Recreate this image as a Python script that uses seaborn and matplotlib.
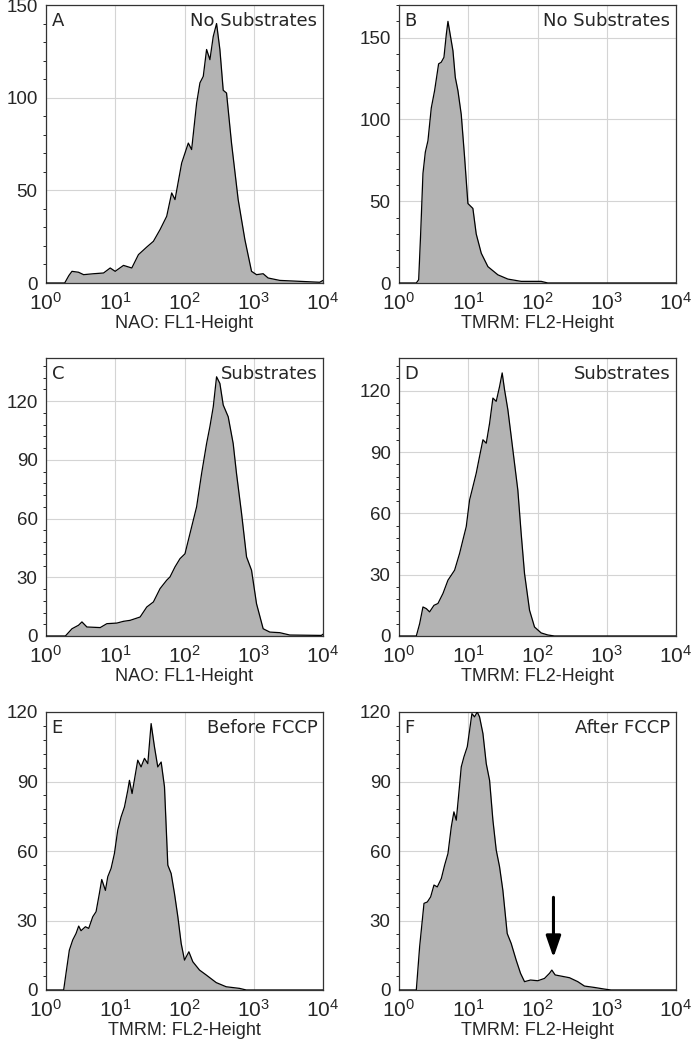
import numpy as np
import matplotlib.pyplot as plt
import matplotlib.ticker as mticker
import seaborn as sns

# histogram outlines: log10(channel) positions and event counts
a_log = [0.0, 0.27, 0.33, 0.375, 0.47, 0.543, 0.687, 0.831, 0.927, 0.999, 1.119, 1.239, 1.335,
         1.455, 1.551, 1.647, 1.743, 1.815, 1.863, 1.959, 2.055, 2.103, 2.175, 2.223, 2.271,
         2.319, 2.367, 2.415, 2.463, 2.511, 2.559, 2.607, 2.679, 2.775, 2.872, 2.968, 3.04,
         3.136, 3.208, 3.376, 3.664, 3.952, 4.0]
a_cnt = [0, 0, 4, 6.3, 5.8, 4.5, 5.0, 5.4, 8.1, 6.3, 9.5, 8.1, 15.3,
         19.4, 22.5, 28.8, 36, 48.6, 45, 64.7, 75.5, 72, 97, 108, 111.5,
         126, 120.5, 133, 140, 126, 104, 102.5, 75.5, 45, 23.4, 6.3, 4.5,
         5.0, 2.7, 1.4, 0.9, 0.4, 1.4]

b_log = [0.0, 0.25, 0.284, 0.3125, 0.346, 0.38, 0.418, 0.466, 0.514, 0.572, 0.61, 0.649, 0.683,
         0.707, 0.731, 0.779, 0.813, 0.851, 0.899, 0.947, 0.995, 1.067, 1.115, 1.188, 1.284,
         1.428, 1.572, 1.764, 1.909, 2.053, 2.149, 4.0]
b_cnt = [0, 0, 2, 30, 67, 80, 87, 107, 117.6, 134, 135, 138, 152,
         160, 154, 142, 125.7, 117.6, 103, 77, 48.6, 45.6, 30, 18.2, 10,
         5, 2.4, 1, 1, 1, 0, 0]

c_log = [0.0, 0.28, 0.375, 0.47, 0.519, 0.591, 0.783, 0.879, 1.023, 1.119, 1.215, 1.359, 1.455,
         1.551, 1.647, 1.743, 1.791, 1.863, 1.935, 2.007, 2.079, 2.175, 2.247, 2.319, 2.367,
         2.415, 2.463, 2.511, 2.559, 2.631, 2.703, 2.751, 2.824, 2.896, 2.968, 3.04, 3.136,
         3.232, 3.376, 3.52, 3.976, 4.0]
c_cnt = [0, 0, 3.7, 5.5, 7.2, 4.6, 4.3, 6.3, 6.6, 7.5, 8, 9.7, 14.8,
         17.4, 24.2, 28.5, 30.2, 35.3, 39.5, 42, 52.3, 66, 83, 98.3, 107,
         117, 132.4, 129, 118, 112, 98.3, 83, 62.6, 40.4, 33.6, 16.5, 3.7,
         2, 1.7, 0.5, 0.3, 0.9]

d_log = [0.0, 0.25, 0.298, 0.346, 0.394, 0.442, 0.505, 0.5625, 0.635, 0.707, 0.803, 0.875, 0.923,
         0.971, 1.019, 1.067, 1.115, 1.163, 1.212, 1.26, 1.308, 1.356, 1.404, 1.452, 1.49,
         1.524, 1.572, 1.62, 1.668, 1.716, 1.764, 1.8125, 1.885, 1.957, 2.053, 2.149, 2.245, 4.0]
d_cnt = [0, 0, 6, 14.2, 13.4, 11.8, 15, 15.9, 20.8, 27.3, 32.2, 40.4, 47,
         53.5, 66.5, 73, 79.6, 87.8, 96, 94.3, 104, 116.4, 114.8, 122, 128.7,
         120.5, 110.7, 97.7, 84.5, 71.4, 50.2, 30.6, 12.6, 4.4, 1.5, 0.5, 0, 0]

e_log = [0.0, 0.255, 0.289, 0.337, 0.386, 0.434, 0.472, 0.506, 0.569, 0.617, 0.675, 0.723, 0.771,
         0.805, 0.858, 0.892, 0.94, 0.988, 1.036, 1.084, 1.133, 1.181, 1.205, 1.243, 1.292,
         1.325, 1.373, 1.422, 1.47, 1.518, 1.566, 1.614, 1.663, 1.711, 1.759, 1.807, 1.855,
         1.904, 1.952, 2.0, 2.063, 2.12, 2.217, 2.313, 2.458, 2.602, 2.795, 2.892, 4.0]
e_cnt = [0, 0, 7.2, 17.2, 21.6, 24.4, 27.6, 25.6, 27.3, 26.6, 31.6, 33.8, 41.7,
         47.7, 43, 48.9, 52.5, 58.9, 69, 74.7, 79, 86.2, 90.5, 84.8, 93.4,
         99.2, 96.3, 100, 97.7, 115, 105, 96.3, 98.4, 87.7, 53.9, 50.3, 41.7,
         31.6, 20.1, 12.9, 16.5, 12.2, 8.6, 6.5, 3.2, 1.4, 0.7, 0, 0]

f_log = [0.0, 0.25, 0.298, 0.361, 0.409, 0.457, 0.505, 0.553, 0.611, 0.659, 0.707, 0.755, 0.793,
         0.827, 0.861, 0.899, 0.9375, 0.986, 1.019, 1.053, 1.091, 1.13, 1.163, 1.212, 1.26,
         1.308, 1.356, 1.404, 1.452, 1.5, 1.5625, 1.62, 1.692, 1.755, 1.8125, 1.899, 2.005,
         2.101, 2.173, 2.207, 2.255, 2.341, 2.462, 2.582, 2.678, 2.822, 2.966, 3.0625, 4.0]
f_cnt = [0, 0, 18.7, 37.4, 38, 40.2, 45.3, 44.5, 48.1, 53.9, 58.9, 70.4, 76.9,
         73.3, 84, 96.3, 100.6, 105, 112, 119.3, 117.9, 120, 117.9, 110.7, 97.7,
         90.5, 73.3, 60.4, 53.2, 43, 24.4, 20.1, 12.9, 7.2, 3.6, 4.3, 4,
         5, 7.2, 8.6, 6.5, 6, 5.3, 3.6, 1.7, 1.1, 0.4, 0, 0]

letters = ['A', 'B', 'C', 'D', 'E', 'F']
titles = ['No Substrates', 'No Substrates', 'Substrates', 'Substrates',
          'Before FCCP', 'After FCCP']
xlabels = ['NAO: FL1-Height', 'TMRM: FL2-Height', 'NAO: FL1-Height',
           'TMRM: FL2-Height', 'TMRM: FL2-Height', 'TMRM: FL2-Height']
ymax = [150, 170, 142, 136, 120, 120]
ystep = [50, 50, 30, 30, 30, 30]
yminor = [10, 10, 6, 6, 6, 6]

sns.set_style('white')
plt.rcParams['font.family'] = ['Liberation Sans', 'DejaVu Sans']
plt.rcParams['mathtext.fontset'] = 'custom'
plt.rcParams['mathtext.rm'] = 'Liberation Sans'
plt.rcParams['mathtext.it'] = 'Liberation Sans'

fig = plt.figure(figsize=(6.97, 10.5), dpi=100)

curves = [(a_log, a_cnt), (b_log, b_cnt), (c_log, c_cnt),
          (d_log, d_cnt), (e_log, e_cnt), (f_log, f_cnt)]
lefts = [46 / 697, 399 / 697]
bottoms = [1 - 283 / 1050, 1 - 636 / 1050, 1 - 990 / 1050]
w = 277 / 697
h = 278 / 1050

for i, (lg, cnt) in enumerate(curves):
    ax = fig.add_axes([lefts[i % 2], bottoms[i // 2], w, h])
    x = 10 ** np.array(lg)
    y = np.array(cnt)
    ax.fill_between(x, y, 0, color='#b3b3b3', lw=0, zorder=2)
    sns.lineplot(x=x, y=y, ax=ax, color='black', lw=0.9, estimator=None,
                 sort=False, zorder=3)
    ax.set_xscale('log')
    ax.set_xlim(1, 1e4)
    ax.set_ylim(0, ymax[i])
    ax.xaxis.set_major_locator(mticker.LogLocator(base=10, numticks=10))
    ax.xaxis.set_minor_locator(mticker.LogLocator(base=10, subs=np.arange(2, 10), numticks=10))
    ax.xaxis.set_minor_formatter(mticker.NullFormatter())
    ax.yaxis.set_major_locator(mticker.MultipleLocator(ystep[i]))
    ax.yaxis.set_minor_locator(mticker.MultipleLocator(yminor[i]))
    ax.grid(True, which='major', color='#d4d4d4', lw=0.8, zorder=0)
    ax.set_axisbelow(True)
    ax.tick_params(axis='x', which='major', direction='inout', length=7, width=0.9,
                   labelsize=15, pad=3)
    ax.tick_params(axis='x', which='minor', direction='in', length=4, width=0.8)
    ax.tick_params(axis='y', which='major', direction='out', length=5, width=0.9,
                   labelsize=13.5, pad=1)
    ax.tick_params(axis='y', which='minor', direction='out', length=2.5, width=0.7, left=True)
    for s in ax.spines.values():
        s.set_color('#333333')
        s.set_linewidth(0.9)
    ax.set_xlabel(xlabels[i], fontsize=13, labelpad=1)
    ax.set_ylabel('')
    ax.text(0.02, 0.975, letters[i], transform=ax.transAxes, ha='left', va='top',
            fontsize=13, family='DejaVu Sans')
    ax.text(0.98, 0.975, titles[i], transform=ax.transAxes, ha='right', va='top',
            fontsize=13, family='DejaVu Sans')
    if i == 5:
        ax.annotate('', xy=(170, 14), xytext=(170, 40),
                    arrowprops=dict(arrowstyle='-|>,head_width=0.45,head_length=1.3',
                                    color='black', lw=2.2, shrinkA=0, shrinkB=0))

fig.savefig('out.png', dpi=100)
